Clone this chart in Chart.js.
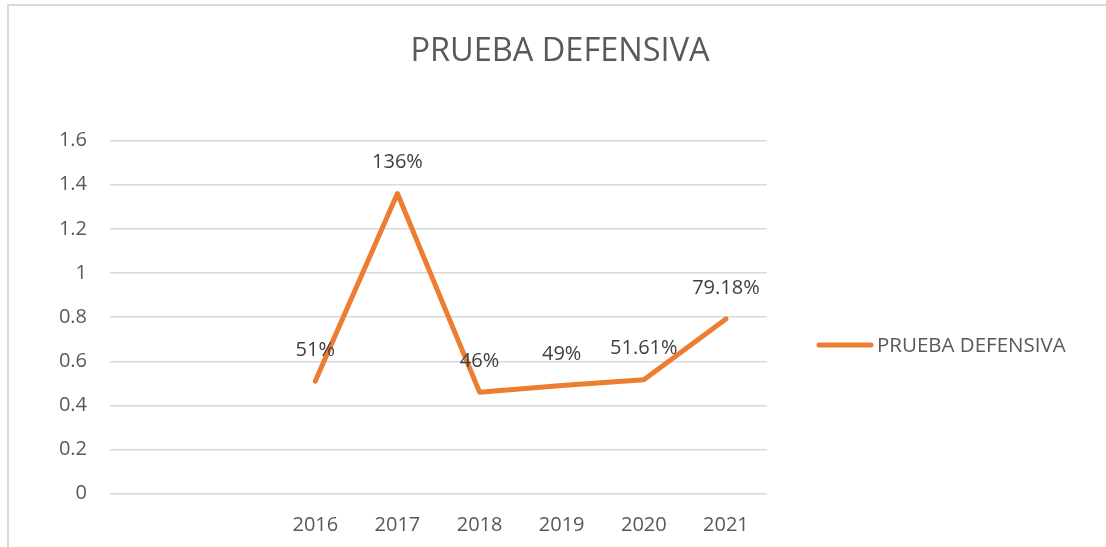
<!DOCTYPE html>
<html>
<head>
<meta charset="utf-8">
<title>PRUEBA DEFENSIVA</title>
<script src="https://cdn.jsdelivr.net/npm/chart.js@4/dist/chart.umd.min.js"></script>
<style>
  html, body { margin: 0; padding: 0; background: #fff; }
  #wrap { position: relative; width: 1106px; height: 547px; overflow: hidden; }
  #frame {
    position: absolute; left: 7px; top: 4px; width: 1100px; height: 560px;
    border-top: 2px solid #d9d9d9; border-left: 2px solid #d9d9d9;
    pointer-events: none;
  }
  canvas { position: absolute; left: 0; top: 0; }
</style>
</head>
<body>
<div id="wrap">
  <canvas id="chart" width="1106" height="547"></canvas>
  <div id="frame"></div>
</div>
<script>
  /* ---- Data ---- */
  const TITLE      = "PRUEBA DEFENSIVA";
  const SERIES     = "PRUEBA DEFENSIVA";
  const categories = ["", "", "2016", "2017", "2018", "2019", "2020", "2021"];
  const values     = [null, null, 0.51, 1.36, 0.46, 0.49, 0.5161, 0.7918];
  const dataLabels = [null, null, "51%", "136%", "46%", "49%", "51.61%", "79.18%"];
  const yMin = 0, yMax = 1.6, yStep = 0.2;

  const FONT   = "'Open Sans', sans-serif";
  const TEXT   = "#595959";
  const ORANGE = "#ED7D31";
  const GRID   = "#d9d9d9";

  /* ---- Title, legend and value labels ---- */
  const decor = {
    id: "decor",
    afterDatasetsDraw(chart) {
      const ctx = chart.ctx;
      ctx.save();

      // title
      ctx.fillStyle = TEXT;
      ctx.font = "32.5px " + FONT;
      ctx.textAlign = "center";
      ctx.textBaseline = "middle";
      ctx.fillText(TITLE, 560, 52);

      // value labels
      const meta = chart.getDatasetMeta(0);
      ctx.fillStyle = "#404040";
      ctx.font = "20px " + FONT;
      meta.data.forEach((pt, i) => {
        if (dataLabels[i] == null) return;
        ctx.fillText(dataLabels[i], pt.x, pt.y - 31);
      });

      // legend
      ctx.strokeStyle = ORANGE;
      ctx.lineWidth = 5;
      ctx.lineCap = "round";
      ctx.beginPath();
      ctx.moveTo(819, 345);
      ctx.lineTo(871, 345);
      ctx.stroke();
      ctx.fillStyle = TEXT;
      ctx.font = "20.5px " + FONT;
      ctx.textAlign = "left";
      ctx.fillText(SERIES, 877, 346);

      ctx.restore();
    }
  };

  new Chart(document.getElementById("chart"), {
    type: "line",
    data: {
      labels: categories,
      datasets: [{
        label: SERIES,
        data: values,
        borderColor: ORANGE,
        backgroundColor: ORANGE,
        borderWidth: 5,
        pointRadius: 0,
        borderCapStyle: "round",
        borderJoinStyle: "round",
        tension: 0,
        spanGaps: false
      }]
    },
    options: {
      responsive: false,
      animation: false,
      layout: { padding: { top: 140.5, right: 339, left: 0, bottom: 0 } },
      plugins: {
        legend: { display: false },
        title: { display: false },
        tooltip: { enabled: false }
      },
      scales: {
        x: {
          offset: true,
          grid: { display: false, offset: true },
          border: { display: false },
          ticks: { color: TEXT, font: { family: FONT, size: 20 }, padding: 12, maxRotation: 0, autoSkip: false },
          afterFit(scale) { scale.height = 53.3; }
        },
        y: {
          min: yMin,
          max: yMax,
          grid: { color: GRID, lineWidth: 1.5, drawTicks: false },
          border: { display: false },
          ticks: {
            stepSize: yStep,
            color: TEXT,
            font: { family: FONT, size: 20 },
            padding: 23,
            callback: v => String(Number(v.toFixed(1)))
          },
          afterFit(scale) { scale.width = 110; }
        }
      }
    },
    plugins: [decor]
  });
</script>
</body>
</html>
